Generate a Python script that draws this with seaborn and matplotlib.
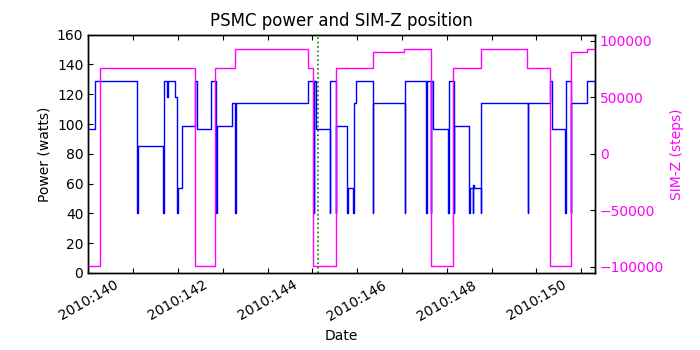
import numpy as np
import pandas as pd
import seaborn as sns
import matplotlib.pyplot as plt

# PSMC power telemetry (day of year 2010, watts), step changes
power_days = [140.000, 140.145, 141.098, 141.109, 141.670, 141.681, 141.763, 141.786,
              141.946, 141.991, 142.002, 142.103, 142.377, 142.438, 142.734, 142.853,
              142.864, 143.210, 143.286, 143.297, 144.911, 145.033, 145.045, 145.089,
              145.391, 145.402, 145.525, 145.536, 145.781, 145.792, 145.911, 145.922,
              145.978, 146.344, 146.355, 147.065, 147.076, 147.540, 147.551, 147.645,
              147.656, 147.696, 148.036, 148.047, 148.154, 148.165, 148.504, 148.516,
              148.583, 148.594, 148.616, 148.754, 148.766, 149.804, 149.815, 150.301,
              150.346, 150.647, 150.658, 150.770, 150.781, 151.121, 151.295, 151.306]
power_watts = [97, 129, 40, 85, 40, 129, 118, 129,
               118, 40, 57, 99, 129, 97, 129, 40,
               99, 114, 40, 114, 129, 40, 129, 97,
               40, 129, 40, 99, 40, 57, 40, 114,
               129, 40, 114, 40, 129, 40, 129, 40,
               129, 97, 40, 129, 40, 99, 40, 57,
               40, 59, 57, 40, 114, 40, 114, 129,
               97, 40, 129, 40, 114, 129, 118, 118]

# SIM-Z position (steps)
simz_days = [140.000, 140.257, 142.377, 142.839, 143.270, 144.906, 145.018, 145.525,
             146.344, 147.049, 147.645, 148.143, 148.754, 149.795, 150.301, 150.763,
             151.121, 151.306]
simz_steps = [-99616, 75624, -99616, 75624, 92904, 75624, -99616, 75624,
              90000, 92904, -99616, 75624, 92904, 75624, -99616, 90000,
              92904, 92904]

event_day = 145.116

tick_days = [140, 141, 142, 143, 144, 145, 146, 147, 148, 149, 150, 151]
tick_labels = ['2010:140', '', '2010:142', '', '2010:144', '', '2010:146', '',
               '2010:148', '', '2010:150', '']
power_ticks = [0, 20, 40, 60, 80, 100, 120, 140, 160]
simz_ticks = [-100000, -50000, 0, 50000, 100000]

sns.set_style("ticks", {"xtick.direction": "in", "ytick.direction": "in",
                        "axes.edgecolor": "black", "text.color": "black",
                        "axes.labelcolor": "black", "xtick.color": "black",
                        "ytick.color": "black"})
plt.rcParams['font.family'] = ['DejaVu Sans']
plt.rcParams['xtick.top'] = True

fig, ax = plt.subplots(figsize=(7, 3.5), dpi=100)
fig.subplots_adjust(left=0.126, right=0.85, bottom=0.22, top=0.901)

power = pd.DataFrame({"day": power_days, "watts": power_watts})
simz = pd.DataFrame({"day": simz_days, "steps": simz_steps})

sns.lineplot(data=power, x="day", y="watts", ax=ax, color="#0000ff",
             drawstyle="steps-post", estimator=None, sort=False, linewidth=1)
ax.axvline(event_day, color="#008000", linestyle=":", linewidth=1.2)

ax2 = ax.twinx()
sns.lineplot(data=simz, x="day", y="steps", ax=ax2, color="#ff00ff",
             drawstyle="steps-post", estimator=None, sort=False, linewidth=1)

ax.set_xlim(140.0, 151.306)
ax.set_ylim(0, 160)
ax2.set_ylim(-105600, 105600)

ax.set_xticks(tick_days)
ax.set_xticklabels(tick_labels, rotation=30, ha="center")
ax.set_yticks(power_ticks)
ax2.set_yticks(simz_ticks)

ax.tick_params(axis="both", direction="in", length=3.5, width=0.8, labelsize=10)
ax.tick_params(axis="x", top=True)
ax2.tick_params(axis="y", direction="in", length=3.5, width=0.8, labelsize=10,
                colors="#ff00ff")
ax2.tick_params(axis="y", color="black")

ax.set_xlabel("Date", fontsize=10)
ax.set_ylabel("Power (watts)", fontsize=10)
ax2.set_ylabel("SIM-Z (steps)", fontsize=10, color="#ff00ff")
ax.set_title("PSMC power and SIM-Z position", fontsize=12)

for a in (ax, ax2):
    for s in a.spines.values():
        s.set_color("black")
        s.set_linewidth(1)

plt.savefig("out.png", dpi=100)
